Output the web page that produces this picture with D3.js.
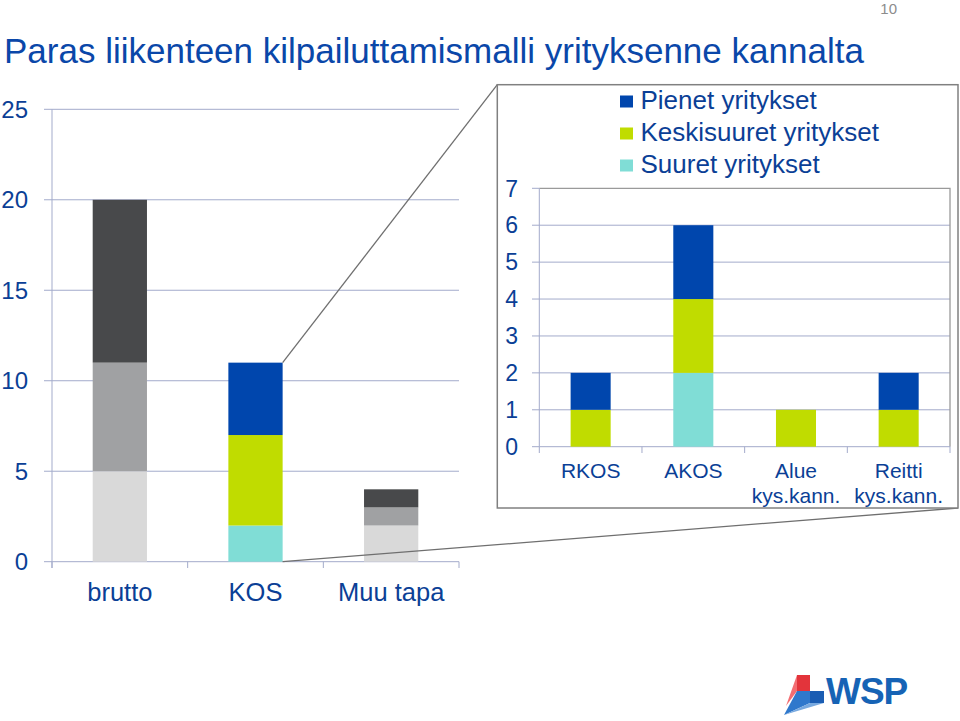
<!DOCTYPE html>
<html>
<head>
<meta charset="utf-8">
<script src="https://cdn.jsdelivr.net/npm/d3@7"></script>
<style>
  body { margin: 0; background: #fff; }
  svg { display: block; font-family: "Liberation Sans", Arial, sans-serif; }
  .grid line { stroke: #a3abcb; stroke-width: 1; }
</style>
</head>
<body>
<svg width="960" height="721"></svg>
<script>
// left chart: tapa
var leftCats = ["brutto", "KOS", "Muu tapa"];
var leftBottom = [5, 2, 2];
var leftMiddle = [6, 5, 1];
var leftTop = [9, 4, 1];
var leftTicks = [0, 5, 10, 15, 20, 25];

// right chart: KOS split
var rightCats = [["RKOS"], ["AKOS"], ["Alue", "kys.kann."], ["Reitti", "kys.kann."]];
var suuret = [0, 2, 0, 0];
var keskisuuret = [1, 2, 1, 1];
var pienet = [1, 2, 0, 1];
var rightTicks = [0, 1, 2, 3, 4, 5, 6, 7];
var legendNames = ["Pienet yritykset", "Keskisuuret yritykset", "Suuret yritykset"];

var greys = ["#d9d9d9", "#a0a1a3", "#48494b"];
var kosCols = ["#80ddd6", "#c0dc00", "#0046ad"];
var textBlue = "#0b3f96";
var axisCol = "#a3abcb";

var svg = d3.select("svg");

// title + page no
svg.append("text")
    .attr("x", 4).attr("y", 63)
    .style("font-size", "35px").style("fill", "#0a47a9")
    .text("Paras liikenteen kilpailuttamismalli yrityksenne kannalta");
svg.append("text")
    .attr("x", 897).attr("y", 14).attr("text-anchor", "end")
    .style("font-size", "15px").style("fill", "#8c8c8c")
    .text("10");

// ---------- left chart ----------
var x1 = d3.scaleBand().domain(leftCats).range([52, 459]).paddingInner(0.6).paddingOuter(0.3);
var y1 = d3.scaleLinear().domain([0, 25]).range([561.7, 109.3]);

var g1 = svg.append("g");
g1.append("g").attr("class", "grid")
    .selectAll("line").data(leftTicks).enter().append("line")
    .attr("x1", 44).attr("x2", 459)
    .attr("y1", function (d) { return y1(d); })
    .attr("y2", function (d) { return y1(d); });

g1.append("line")
    .attr("x1", 52).attr("x2", 52)
    .attr("y1", y1(25)).attr("y2", 568)
    .style("stroke", axisCol);

// category ticks
var step1 = (459 - 52) / leftCats.length;
g1.selectAll(".ctick").data(d3.range(leftCats.length + 1)).enter().append("line")
    .attr("x1", function (d) { return 52 + d * step1; })
    .attr("x2", function (d) { return 52 + d * step1; })
    .attr("y1", y1(0)).attr("y2", 568)
    .style("stroke", axisCol);

var leftRows = leftCats.map(function (c, i) {
    return { cat: c, a: leftBottom[i], b: leftMiddle[i], c: leftTop[i] };
});
var stack1 = d3.stack().keys(["a", "b", "c"])(leftRows);
stack1.forEach(function (layer, li) {
    g1.selectAll(".l" + li).data(layer).enter().append("rect")
        .attr("x", function (d) { return x1(d.data.cat); })
        .attr("width", x1.bandwidth())
        .attr("y", function (d) { return y1(d[1]); })
        .attr("height", function (d) { return y1(d[0]) - y1(d[1]); })
        .style("fill", function (d) {
            return d.data.cat == "KOS" ? kosCols[li] : greys[li];
        });
});

g1.selectAll(".ylab").data(leftTicks).enter().append("text")
    .attr("x", 28).attr("y", function (d) { return y1(d); })
    .attr("dy", "0.36em").attr("text-anchor", "end")
    .style("font-size", "24px").style("fill", textBlue)
    .text(function (d) { return d; });

g1.selectAll(".xlab").data(leftCats).enter().append("text")
    .attr("x", function (d) { return x1(d) + x1.bandwidth() / 2; })
    .attr("y", 600.5).attr("text-anchor", "middle")
    .style("font-size", "25.5px").style("fill", textBlue)
    .text(function (d) { return d; });

// ---------- zoom box ----------
var kosRight = x1("KOS") + x1.bandwidth();
var box = { x0: 497.3, y0: 84.7, x1: 958, y1: 508 };
svg.append("line")
    .attr("x1", kosRight).attr("y1", y1(11))
    .attr("x2", box.x0).attr("y2", box.y0)
    .style("stroke", "#6f6f6f").style("stroke-width", 1.3);
svg.append("line")
    .attr("x1", kosRight).attr("y1", y1(0))
    .attr("x2", box.x1).attr("y2", box.y1)
    .style("stroke", "#6f6f6f").style("stroke-width", 1.3);
svg.append("rect")
    .attr("x", box.x0).attr("y", box.y0)
    .attr("width", box.x1 - box.x0).attr("height", box.y1 - box.y0)
    .style("fill", "#fff").style("stroke", "#808080").style("stroke-width", 1.5);

// ---------- right chart ----------
var x2 = d3.scaleBand().domain(d3.range(rightCats.length)).range([539.3, 950])
    .paddingInner(0.61).paddingOuter(0.305);
var y2 = d3.scaleLinear().domain([0, 7]).range([446.7, 188.3]);
var g2 = svg.append("g");

g2.selectAll(".grid2").data(rightTicks.slice(1, 7)).enter().append("line")
    .attr("x1", 532).attr("x2", 950)
    .attr("y1", function (d) { return y2(d); })
    .attr("y2", function (d) { return y2(d); })
    .style("stroke", axisCol);
g2.append("line").attr("x1", 532).attr("x2", 539.3).attr("y1", y2(0)).attr("y2", y2(0)).style("stroke", axisCol);
g2.append("line").attr("x1", 532).attr("x2", 539.3).attr("y1", y2(7)).attr("y2", y2(7)).style("stroke", axisCol);
// plot border top/right
g2.append("path")
    .attr("d", "M539.3," + y2(7) + "H950V" + y2(0))
    .style("fill", "none").style("stroke", "#9a9a9a").style("stroke-width", 1.3);
g2.append("line").attr("x1", 539.3).attr("x2", 539.3).attr("y1", y2(7)).attr("y2", y2(0)).style("stroke", axisCol);
g2.append("line").attr("x1", 539.3).attr("x2", 950).attr("y1", y2(0)).attr("y2", y2(0)).style("stroke", axisCol);

var step2 = (950 - 539.3) / rightCats.length;
g2.selectAll(".ct2").data(d3.range(rightCats.length + 1)).enter().append("line")
    .attr("x1", function (d) { return 539.3 + d * step2; })
    .attr("x2", function (d) { return 539.3 + d * step2; })
    .attr("y1", y2(0)).attr("y2", 453)
    .style("stroke", axisCol);

var rightRows = rightCats.map(function (c, i) {
    return { i: i, s: suuret[i], k: keskisuuret[i], p: pienet[i] };
});
var stack2 = d3.stack().keys(["s", "k", "p"])(rightRows);
stack2.forEach(function (layer, li) {
    g2.selectAll(".r" + li).data(layer.filter(function (d) { return d[1] > d[0]; }))
        .enter().append("rect")
        .attr("x", function (d) { return x2(d.data.i); })
        .attr("width", x2.bandwidth())
        .attr("y", function (d) { return y2(d[1]); })
        .attr("height", function (d) { return y2(d[0]) - y2(d[1]); })
        .style("fill", kosCols[li]);
});

g2.selectAll(".ylab2").data(rightTicks).enter().append("text")
    .attr("x", 518).attr("y", function (d) { return y2(d); })
    .attr("dy", "0.36em").attr("text-anchor", "end")
    .style("font-size", "23px").style("fill", textBlue)
    .text(function (d) { return d; });

var catText = g2.selectAll(".xlab2").data(rightCats).enter().append("text")
    .attr("text-anchor", "middle")
    .style("font-size", "21px").style("fill", textBlue);
catText.selectAll("tspan").data(function (d, i) {
    return d.map(function (t) { return { t: t, i: i }; });
}).enter().append("tspan")
    .attr("x", function (d) { return x2(d.i) + x2.bandwidth() / 2; })
    .attr("y", function (d, j) { return 478 + j * 24.5; })
    .text(function (d) { return d.t; });

// legend
var legCols = [kosCols[2], kosCols[1], kosCols[0]];
var leg = g2.selectAll(".leg").data(legendNames).enter().append("g")
    .attr("transform", function (d, i) { return "translate(620," + (95.5 + i * 32) + ")"; });
leg.append("rect").attr("width", 13).attr("height", 12)
    .style("fill", function (d, i) { return legCols[i]; });
leg.append("text").attr("x", 20.5).attr("y", 13.5)
    .style("font-size", "26px").style("fill", textBlue)
    .text(function (d) { return d; });

// ---------- WSP logo ----------
var logo = svg.append("g");
logo.append("path").attr("d", "M797,675 L810,675 L810,691 L797,691 Z").style("fill", "#e3343b");
logo.append("path").attr("d", "M797,675 L797,691 L786,706 Z").style("fill", "#f36d72");
logo.append("path").attr("d", "M810,691 L824,691 L824,703 L810,703 Z").style("fill", "#1b5db3");
logo.append("path").attr("d", "M797,691 L810,691 L810,703 L784,715 Z").style("fill", "#2f78cc");
logo.append("path").attr("d", "M784,715 L810,703 L824,703 Z").style("fill", "#78a9df");
svg.append("text")
    .attr("x", 826).attr("y", 704)
    .style("font-size", "37px").style("font-weight", "bold").style("fill", "#1663b5")
    .style("letter-spacing", "-1px")
    .text("WSP");
</script>
</body>
</html>
